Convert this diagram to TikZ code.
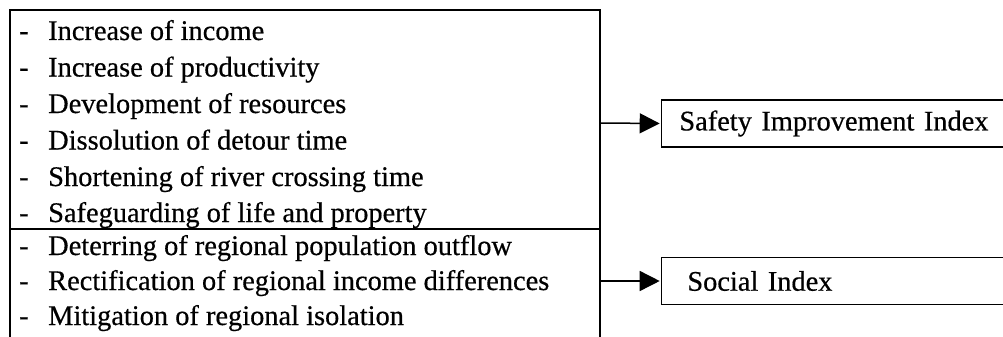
\documentclass[tikz,border=0pt]{standalone}
\usepackage{fontspec}
\setmainfont{Liberation Serif}
\newfontfamily\scanserif[FakeBold=0.5]{Liberation Serif}
\usetikzlibrary{arrows.meta}

\tikzset{
  post/.style={line width=2.6pt, line cap=rect},
  rule/.style={line width=1.3pt},
  item/.style={anchor=base west, inner sep=0pt, font=\scanserif\fontsize{28.4}{30}\selectfont},
  indexbox/.style={draw, line width=1.7pt, anchor=west, minimum height=47pt,
    text width=340pt, align=left, font=\scanserif\fontsize{28.4}{30}\selectfont},
  feed/.style={line width=1.5pt, -{Triangle[length=20pt,width=20pt]}, shorten >=0.8pt}
}

\newcommand{\entry}[1]{\makebox[29pt][l]{-}#1}

\begin{document}
\begin{tikzpicture}[x=1pt,y=1pt]
  \useasboundingbox (0,0) rectangle (1003,-337);
  \clip (0,0) rectangle (1003,-337);

  % open frame around the list of effects
  \draw[post] (10,-345) -- (10,-10);
  \draw[post] (600,-345) -- (600,-10);
  \draw[rule] (10,-10) -- (600,-10);
  \draw[rule] (10,-229) -- (600,-229);

  % economic / safety effects
  \node[item] (e1) at (19,-40)    {\entry{Increase of income}};
  \node[item] (e2) at (19,-76.5)  {\entry{Increase of productivity}};
  \node[item] (e3) at (19,-113)   {\entry{Development of resources}};
  \node[item] (e4) at (19,-149.5) {\entry{Dissolution of detour time}};
  \node[item] (e5) at (19,-186)   {\entry{Shortening of river crossing time}};
  \node[item] (e6) at (19,-222)   {\entry{Safeguarding of life and property}};

  % social effects
  \node[item] (s1) at (19,-255) {\entry{Deterring of regional population outflow}};
  \node[item] (s2) at (19,-290) {\entry{Rectification of regional income differences}};
  \node[item] (s3) at (19,-325) {\entry{Mitigation of regional isolation}};

  % index boxes, running off to the right
  \node[indexbox, inner xsep=18pt] (safety) at (660.5,-123.5) {Safety Improvement Index};
  \node[indexbox, inner xsep=26pt] (social) at (660.5,-281) {Social Index};

  % arrows from the frame to the indices
  \coordinate (fromSafety) at (600,-123);
  \coordinate (fromSocial) at (600,-281);
  \draw[feed] (fromSafety) -- (safety.west);
  \draw[feed] (fromSocial) -- (social.west);
\end{tikzpicture}
\end{document}
